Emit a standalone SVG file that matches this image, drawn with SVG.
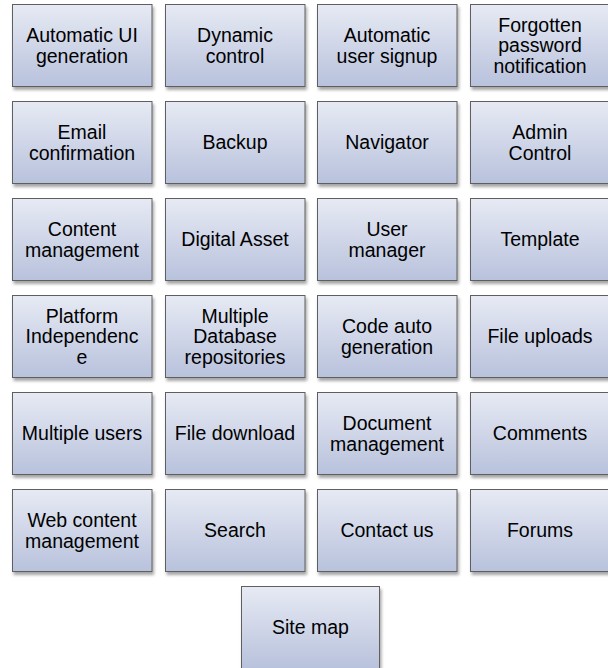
<svg xmlns="http://www.w3.org/2000/svg" width="608" height="668" viewBox="0 0 608 668">
<defs>
<linearGradient id="g" x1="0" y1="0" x2="0" y2="1">
<stop offset="0" stop-color="#e7eaf4"/>
<stop offset="1" stop-color="#b8c2dc"/>
</linearGradient>
<filter id="sh" x="-10%" y="-10%" width="130%" height="130%">
<feDropShadow dx="1.5" dy="3" stdDeviation="1.8" flood-color="#000" flood-opacity="0.35"/>
</filter>
</defs>
<style>
rect.b{fill:url(#g);stroke:#5e5e5e;stroke-width:1;filter:url(#sh)}
text{font-family:"Liberation Sans",Arial,sans-serif;font-size:19.5px;fill:#000;text-anchor:middle}
</style>
<rect width="608" height="668" fill="#fff"/>
<g id="connectors"/>
<g id="n1"><rect class="b" x="12.5" y="4.5" width="139.5" height="82"/><text x="82" y="42">Automatic UI</text><text x="82" y="62.5">generation</text></g>
<g id="n2"><rect class="b" x="165.5" y="4.5" width="139.5" height="82"/><text x="235" y="42">Dynamic</text><text x="235" y="62.5">control</text></g>
<g id="n3"><rect class="b" x="317.5" y="4.5" width="139.5" height="82"/><text x="387" y="42">Automatic</text><text x="387" y="62.5">user signup</text></g>
<g id="n4"><rect class="b" x="470.5" y="4.5" width="139.5" height="82"/><text x="540" y="31.8">Forgotten</text><text x="540" y="52.3">password</text><text x="540" y="72.8">notification</text></g>

<g id="n5"><rect class="b" x="12.5" y="101.5" width="139.5" height="82"/><text x="82" y="139">Email</text><text x="82" y="159.5">confirmation</text></g>
<g id="n6"><rect class="b" x="165.5" y="101.5" width="139.5" height="82"/><text x="235" y="149.3">Backup</text></g>
<g id="n7"><rect class="b" x="317.5" y="101.5" width="139.5" height="82"/><text x="387" y="149.3">Navigator</text></g>
<g id="n8"><rect class="b" x="470.5" y="101.5" width="139.5" height="82"/><text x="540" y="139">Admin</text><text x="540" y="159.5">Control</text></g>

<g id="n9"><rect class="b" x="12.5" y="198.5" width="139.5" height="82"/><text x="82" y="236">Content</text><text x="82" y="256.5">management</text></g>
<g id="n10"><rect class="b" x="165.5" y="198.5" width="139.5" height="82"/><text x="235" y="246.3">Digital Asset</text></g>
<g id="n11"><rect class="b" x="317.5" y="198.5" width="139.5" height="82"/><text x="387" y="236">User</text><text x="387" y="256.5">manager</text></g>
<g id="n12"><rect class="b" x="470.5" y="198.5" width="139.5" height="82"/><text x="540" y="246.3">Template</text></g>

<g id="n13"><rect class="b" x="12.5" y="295.5" width="139.5" height="82"/><text x="82" y="322.8">Platform</text><text x="82" y="343.3">Independenc</text><text x="82" y="363.8">e</text></g>
<g id="n14"><rect class="b" x="165.5" y="295.5" width="139.5" height="82"/><text x="235" y="322.8">Multiple</text><text x="235" y="343.3">Database</text><text x="235" y="363.8">repositories</text></g>
<g id="n15"><rect class="b" x="317.5" y="295.5" width="139.5" height="82"/><text x="387" y="333">Code auto</text><text x="387" y="353.5">generation</text></g>
<g id="n16"><rect class="b" x="470.5" y="295.5" width="139.5" height="82"/><text x="540" y="343.3">File uploads</text></g>

<g id="n17"><rect class="b" x="12.5" y="392.5" width="139.5" height="82"/><text x="82" y="440.3">Multiple users</text></g>
<g id="n18"><rect class="b" x="165.5" y="392.5" width="139.5" height="82"/><text x="235" y="440.3">File download</text></g>
<g id="n19"><rect class="b" x="317.5" y="392.5" width="139.5" height="82"/><text x="387" y="430">Document</text><text x="387" y="450.5">management</text></g>
<g id="n20"><rect class="b" x="470.5" y="392.5" width="139.5" height="82"/><text x="540" y="440.3">Comments</text></g>

<g id="n21"><rect class="b" x="12.5" y="489.5" width="139.5" height="82"/><text x="82" y="527">Web content</text><text x="82" y="547.5">management</text></g>
<g id="n22"><rect class="b" x="165.5" y="489.5" width="139.5" height="82"/><text x="235" y="537.3">Search</text></g>
<g id="n23"><rect class="b" x="317.5" y="489.5" width="139.5" height="82"/><text x="387" y="537.3">Contact us</text></g>
<g id="n24"><rect class="b" x="470.5" y="489.5" width="139.5" height="82"/><text x="540" y="537.3">Forums</text></g>

<g id="n25"><rect class="b" x="241.5" y="586.5" width="138" height="82"/><text x="310.5" y="634.3">Site map</text></g>
</svg>
